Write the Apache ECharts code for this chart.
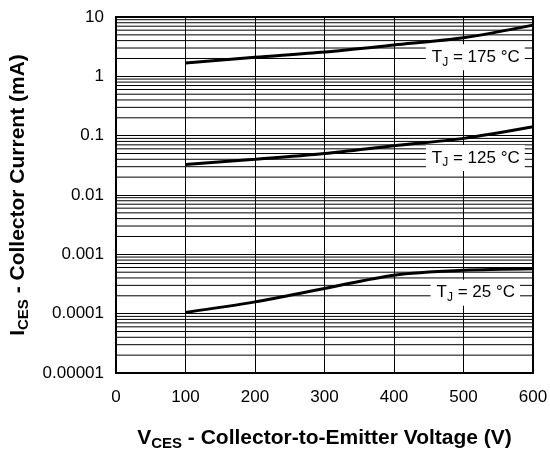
<!DOCTYPE html>
<html><head><meta charset="utf-8">
<script src="https://cdn.jsdelivr.net/npm/echarts@6/dist/echarts.min.js"></script>
<style>html,body{margin:0;padding:0;background:#fff}#c{width:550px;height:449px}</style>
</head><body><div id="c"></div>
<script>
const voltages = [100, 200, 300, 400, 500, 600];
const i175 = [1.67, 2.09, 2.57, 3.37, 4.47, 7.3];
const i125 = [0.0328, 0.040, 0.050, 0.0676, 0.090, 0.141];
const i25 = [0.000105, 0.000158, 0.000266, 0.000446, 0.000537, 0.00057];
const yTickValues = [10, 1, 0.1, 0.01, 0.001, 0.0001, 0.00001];
const yTickLabels = ['10', '1', '0.1', '0.01', '0.001', '0.0001', '0.00001'];
const xTickLabels = ['0', '100', '200', '300', '400', '500', '600'];
const curveLabels = [
  { name: '175', x: 517, y: 2.1 },
  { name: '125', x: 517, y: 0.042 },
  { name: '25', x: 517, y: 0.000225 }
];
const minorMantissas = [2, 3, 4, 5, 6, 7, 8, 9];
const decadeExponents = [-5, -4, -3, -2, -1, 0];

const minorValues = [];
decadeExponents.forEach(e => minorMantissas.forEach(m => minorValues.push(m * Math.pow(10, e))));

const font = 'Liberation Sans, Arial, Helvetica, sans-serif';
function mkSeries(data, lbl) {
  return {
    type: 'line',
    data: voltages.map((v, i) => [v, data[i]]),
    symbol: 'none', silent: true, smooth: 0.3,
    lineStyle: { color: '#000', width: 3 },
    z: 5,
    markPoint: {
      symbol: 'rect', symbolSize: 0, silent: true,
      data: [{ coord: [lbl.x, lbl.y] }],
      label: {
        show: true, position: 'inside',
        formatter: '{t|T}{s|J}{t| = ' + lbl.name + ' °C}',
        backgroundColor: '#fff',
        padding: [2, 5, 2, 6],
        rich: {
          t: { fontFamily: font, fontSize: 17, color: '#000' },
          s: { fontFamily: font, fontSize: 12, color: '#000', verticalAlign: 'bottom', padding: [10, 0, 0, 0] }
        }
      }
    }
  };
}

const gridSeries = minorValues.map(v => ({
  type: 'line', data: [[0, v], [600, v]], symbol: 'none', silent: true,
  lineStyle: { color: '#000', width: 1 }, z: 1
}));

const nameRich = {
  b: { fontFamily: font, fontSize: 21, fontWeight: 'bold', color: '#000' },
  bs: { fontFamily: font, fontSize: 15, fontWeight: 'bold', color: '#000', verticalAlign: 'bottom', padding: [11, 0, 0, 0] }
};

const chart = echarts.init(document.getElementById('c'), null, { renderer: 'canvas' });
chart.setOption({
  animation: false,
  backgroundColor: '#fff',
  grid: { left: 116, right: 17, top: 17, bottom: 76, containLabel: false, outerBoundsMode: 'none', show: true, borderColor: '#000', borderWidth: 2, backgroundColor: 'transparent', z: 10 },
  xAxis: {
    type: 'value', min: 0, max: 600, interval: 100,
    axisLine: { show: true, lineStyle: { color: '#000', width: 2 } },
    axisTick: { show: false },
    axisLabel: { color: '#000', fontFamily: font, fontSize: 17, margin: 16,
      formatter: v => xTickLabels[Math.round(v / 100)] },
    splitLine: { show: true, lineStyle: { color: '#000', width: 1 } },
    name: '{b|V}{bs|CES}{b| - Collector-to-Emitter Voltage (V)}',
    nameLocation: 'middle', nameGap: 52,
    nameTextStyle: { rich: nameRich }
  },
  yAxis: {
    type: 'log', logBase: 10, min: 0.00001, max: 10,
    axisLine: { show: true, lineStyle: { color: '#000', width: 2 } },
    axisTick: { show: false },
    axisLabel: { color: '#000', fontFamily: font, fontSize: 17, margin: 12,
      formatter: v => { const i = yTickValues.findIndex(t => Math.abs(Math.log10(t) - Math.log10(v)) < 1e-6); return i >= 0 ? yTickLabels[i] : ''; } },
    splitLine: { show: true, lineStyle: { color: '#000', width: 1 } },
    name: '{b|I}{bs|CES}{b| - Collector Current (mA)}',
    nameLocation: 'middle', nameGap: 78, nameRotate: 90,
    nameTextStyle: { rich: nameRich }
  },
  series: gridSeries.concat([
    mkSeries(i175, curveLabels[0]),
    mkSeries(i125, curveLabels[1]),
    mkSeries(i25, curveLabels[2])
  ])
});
</script></body></html>
